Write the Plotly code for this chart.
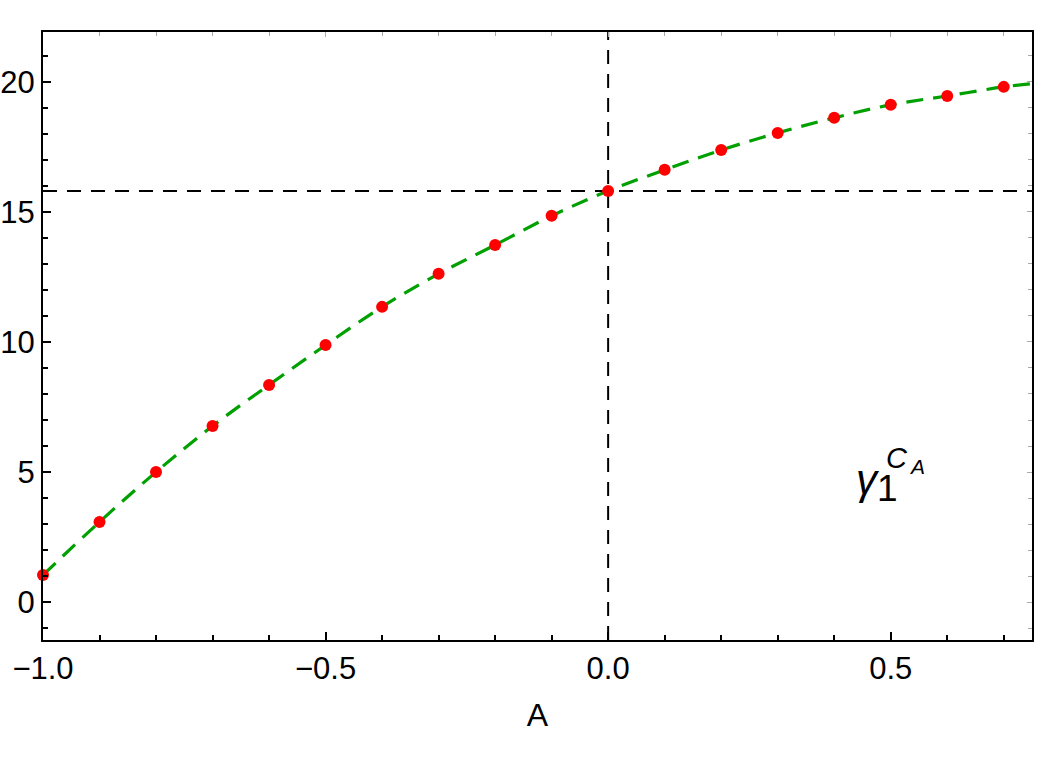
import plotly.graph_objects as go

# Data
a_vals = [-1.0, -0.9, -0.8, -0.7, -0.6, -0.5, -0.4, -0.3, -0.2, -0.1,
          0.0, 0.1, 0.2, 0.3, 0.4, 0.5, 0.6, 0.7]
gamma_vals = [1.04, 3.08, 5.0, 6.77, 8.35, 9.88, 11.35, 12.62, 13.73, 14.85,
              15.81, 16.62, 17.38, 18.04, 18.62, 19.12, 19.46, 19.81]
curve_x = a_vals + [0.75]
curve_y = gamma_vals + [19.93]
ref_x = 0.0
ref_y = 15.81
x_range = [-1.0, 0.75]
y_range = [-1.46, 21.92]

FONT = "Liberation Sans, Arial, sans-serif"

fig = go.Figure()
fig.add_trace(go.Scatter(x=curve_x, y=curve_y, mode="lines",
                         line=dict(color="#00a000", width=3.2, dash="17px,10px", shape="spline"),
                         showlegend=False, hoverinfo="skip"))
fig.add_trace(go.Scatter(x=a_vals, y=gamma_vals, mode="markers",
                         marker=dict(color="#ff0000", size=12),
                         showlegend=False, cliponaxis=False))
# invisible trace to carry the mirrored (top/right) axes
fig.add_trace(go.Scatter(x=[x_range[0]], y=[y_range[0]], xaxis="x2", yaxis="y2",
                         mode="markers", marker=dict(opacity=0), showlegend=False,
                         hoverinfo="skip"))

fig.add_shape(type="line", xref="x", yref="paper", x0=ref_x, x1=ref_x, y0=0, y1=1,
              line=dict(color="black", width=2, dash="14px,10px"), layer="below")
fig.add_shape(type="line", xref="paper", yref="y", x0=0, x1=1, y0=ref_y, y1=ref_y,
              line=dict(color="black", width=2, dash="14px,10px"), layer="below")

# label gamma_1^{C_A}
fig.add_annotation(x=0.459, y=4.72, xref="x", yref="y", text="<i>γ</i>",
                   showarrow=False, font=dict(size=42, color="black", family=FONT))
fig.add_annotation(x=0.495, y=4.35, xref="x", yref="y", text="1",
                   showarrow=False, font=dict(size=37, color="black", family=FONT))
fig.add_annotation(x=0.511, y=5.55, xref="x", yref="y", text="<i>C</i>",
                   showarrow=False, font=dict(size=29, color="black", family=FONT))
fig.add_annotation(x=0.546, y=5.2, xref="x", yref="y", text="<i>A</i>",
                   showarrow=False, font=dict(size=21, color="black", family=FONT))

axis_common = dict(showgrid=False, zeroline=False, showline=True, linecolor="black",
                   linewidth=2, mirror=True, ticks="inside", tickcolor="black",
                   tickwidth=1.5, ticklen=8, automargin=False,
                   tickfont=dict(size=31, color="black", family=FONT))

fig.update_layout(
    xaxis=dict(range=x_range, dtick=0.5, tick0=0, tickformat=".1f",
               minor=dict(ticks="inside", dtick=0.1, ticklen=5, tickcolor="black", tickwidth=1.5),
               title=dict(text="A", font=dict(size=32, color="black", family=FONT), standoff=18),
               **axis_common),
    yaxis=dict(range=y_range, dtick=5, tick0=0,
               minor=dict(ticks="inside", dtick=1, ticklen=5, tickcolor="black", tickwidth=1.5),
               **axis_common),
    xaxis2=dict(range=x_range, overlaying="x", side="top", anchor="y2", showgrid=False,
                zeroline=False, showline=False, ticks="inside", tickcolor="#aaaaaa",
                tickwidth=1, ticklen=5, dtick=0.5, tick0=0, showticklabels=False,
                automargin=False,
                minor=dict(ticks="inside", dtick=0.1, ticklen=4, tickcolor="#aaaaaa", tickwidth=1)),
    yaxis2=dict(range=y_range, overlaying="y", side="right", anchor="x2", showgrid=False,
                zeroline=False, showline=False, ticks="inside", tickcolor="#aaaaaa",
                tickwidth=1, ticklen=5, dtick=5, tick0=0, showticklabels=False,
                automargin=False,
                minor=dict(ticks="inside", dtick=1, ticklen=4, tickcolor="#aaaaaa", tickwidth=1)),
    width=1042, height=761, plot_bgcolor="white", paper_bgcolor="white",
    margin=dict(l=43, r=10, t=32, b=121), showlegend=False,
)

fig.write_html("out.html")
